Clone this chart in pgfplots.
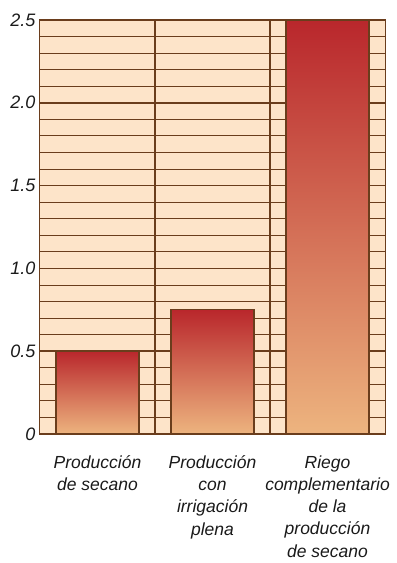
\documentclass[border=0pt]{standalone}
\usepackage{fontspec}
\setmainfont{Liberation Sans}
\usepackage{pgfplots}
\pgfplotsset{compat=1.18}
\definecolor{bgc}{HTML}{FDE4C9}
\definecolor{gridc}{HTML}{6A3D1C}
\definecolor{bartop}{HTML}{B9272C}
\definecolor{barbot}{HTML}{EDB47F}
\definecolor{txt}{HTML}{1A1A1A}
\begin{document}
\begin{tikzpicture}
\begin{axis}[
  scale only axis,
  width=345pt, height=414pt,
  xmin=-0.5, xmax=2.5,
  ymin=0, ymax=2.5,
  axis background/.style={fill=bgc},
  axis line style={gridc, line width=1pt},
  xtick={0,1,2},
  xticklabels={{Producción\\de secano},{Producción\\con\\irrigación\\plena},{Riego\\complementario\\de la\\producción\\de secano}},
  x tick label style={font=\itshape\fontsize{17.5}{22.2}\selectfont, text=txt, align=center, anchor=north, yshift=-18pt},
  extra x ticks={0.5,1.5},
  extra x tick labels={},
  extra x tick style={grid=major, major grid style={gridc, line width=1.3pt}},
  ytick={0,0.5,1,1.5,2,2.5},
  yticklabels={0,0.5,1.0,1.5,2.0,2.5},
  y tick label style={font=\itshape\fontsize{18}{20}\selectfont, text=txt, xshift=-1pt},
  minor y tick num=4,
  ymajorgrids, yminorgrids,
  major grid style={gridc, line width=1.6pt},
  minor grid style={gridc, line width=0.9pt},
  major tick length=0pt, minor tick length=0pt,
  ybar, bar width=83pt, bar shift=0pt,
  clip=false,
]
\addplot[draw=gridc, line width=1.3pt, top color=bartop, bottom color=barbot]
  coordinates {(0,0.5)};
\addplot[draw=gridc, line width=1.3pt, top color=bartop, bottom color=barbot]
  coordinates {(1,0.75)};
\addplot[draw=gridc, line width=1.3pt, top color=bartop, bottom color=barbot]
  coordinates {(2,2.5)};
\end{axis}
\path (current axis.south west) +(-40pt,-129pt) (current axis.north east) +(12pt,20pt);
\end{tikzpicture}
\end{document}
